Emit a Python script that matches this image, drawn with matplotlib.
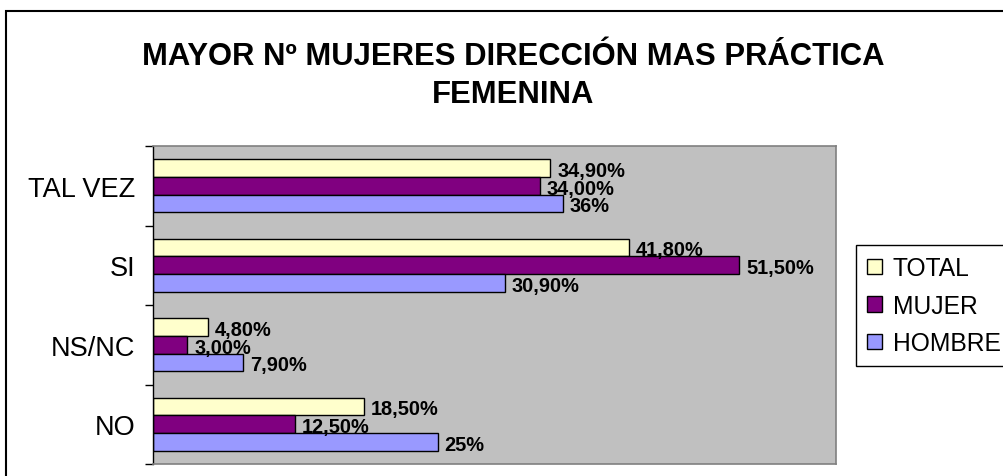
import matplotlib
matplotlib.use("Agg")
import matplotlib.pyplot as plt
from matplotlib.patches import Rectangle, Patch
import numpy as np

plt.rcParams['font.family'] = ['Liberation Sans', 'DejaVu Sans']

categories = ["NO", "NS/NC", "SI", "TAL VEZ"]
series_names = ["TOTAL", "MUJER", "HOMBRE"]
total = [18.5, 4.8, 41.8, 34.9]
mujer = [12.5, 3.0, 51.5, 34.0]
hombre = [25.0, 7.9, 30.9, 36.0]
total_labels = ["18,50%", "4,80%", "41,80%", "34,90%"]
mujer_labels = ["12,50%", "3,00%", "51,50%", "34,00%"]
hombre_labels = ["25%", "7,90%", "30,90%", "36%"]
colors = ["#FFFFCC", "#800080", "#9999FF"]
title = "MAYOR Nº MUJERES DIRECCIÓN MAS PRÁCTICA\nFEMENINA"

W, H = 1004, 477
fig = plt.figure(figsize=(W / 100, H / 100), dpi=100)
ax = fig.add_axes([153 / W, 1 - 465 / H, (836 - 153) / W, (465 - 147) / H])
ax.set_facecolor("#C0C0C0")

y = np.arange(len(categories))
bh = 1 / 4.5
offsets = [bh, 0, -bh]
data = [total, mujer, hombre]
labels = [total_labels, mujer_labels, hombre_labels]
for vals, labs, off, col, name in zip(data, labels, offsets, colors, series_names):
    bars = ax.barh(y + off, vals, height=bh, color=col, edgecolor="black",
                   linewidth=1.0, label=name)
    for rect, lab in zip(bars, labs):
        ax.annotate(lab, (rect.get_width(), rect.get_y() + rect.get_height() / 2),
                    xytext=(5, -5.6), textcoords="offset points",
                    ha="left", va="baseline", fontsize=14.4, fontweight="bold",
                    color="black")

ax.set_xlim(0, 60)
ax.set_ylim(-0.5, len(categories) - 0.5)
ax.set_xticks([])
ax.set_yticks(y)
ax.set_yticklabels(categories, fontsize=19.5)
ax.set_yticks(np.arange(-0.5, len(categories), 1.0), minor=True)
ax.tick_params(axis="y", which="major", length=0, pad=13)
ax.tick_params(axis="y", which="minor", length=6, width=1.0, color="black")

for s in ["top", "right", "bottom"]:
    ax.spines[s].set_color("#808080")
    ax.spines[s].set_linewidth(1.2)
ax.spines["left"].set_color("black")
ax.spines["left"].set_linewidth(1.0)

handles = [Patch(facecolor=c, edgecolor="black", linewidth=1.0) for c in colors]
leg = fig.legend(handles, series_names, loc="upper left",
                 bbox_to_anchor=(856 / W, 1 - 246 / H), fontsize=17.7,
                 frameon=True, fancybox=False, shadow=False,
                 handlelength=0.6, handleheight=0.6, handletextpad=0.45,
                 labelspacing=0.55, borderpad=0.45, borderaxespad=0)
leg.get_frame().set_edgecolor("black")
leg.get_frame().set_linewidth(1.0)
leg.get_frame().set_alpha(1)

fig.text(513 / W, 1 - 103 / H, title, ha="center", va="baseline",
         fontsize=22.3, fontweight="bold", linespacing=1.35, multialignment="center")

fig.patches.append(Rectangle((6 / W, -0.1), 2.0, 1.1 - 12 / H, fill=False,
                             edgecolor="black", linewidth=1.5,
                             transform=fig.transFigure, figure=fig))

fig.savefig("out.png", dpi=100)
